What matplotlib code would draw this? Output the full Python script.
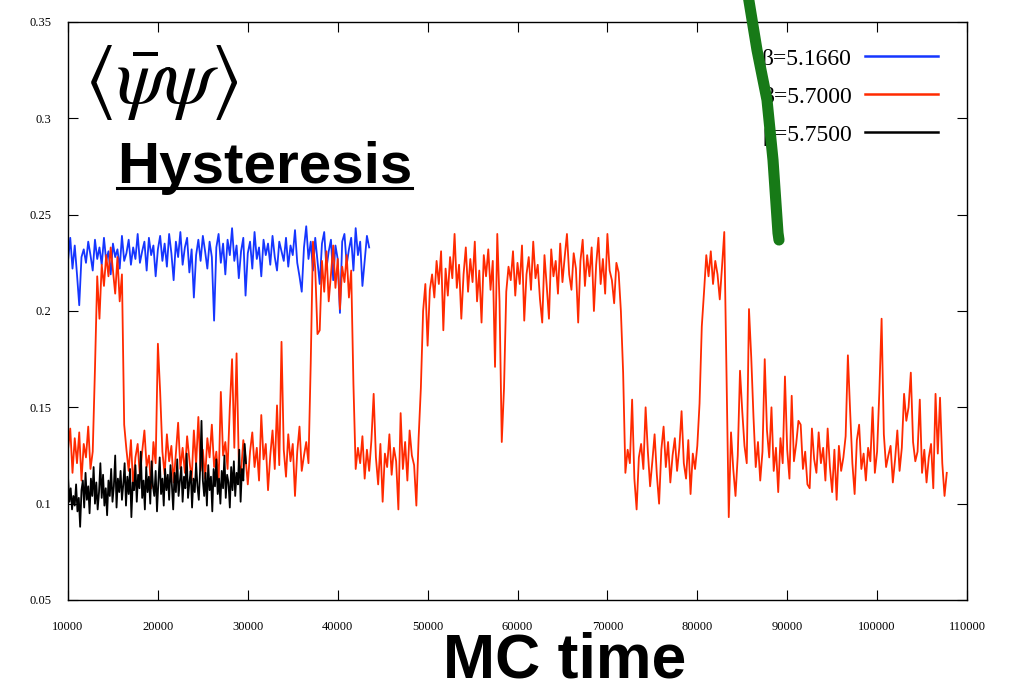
import matplotlib
matplotlib.use("Agg")
import matplotlib.pyplot as plt
from matplotlib.lines import Line2D
from matplotlib.ticker import FuncFormatter, MultipleLocator
import numpy as np

# Chiral condensate histories, one run per beta, sampled on a regular MC-time grid
blue_t0, blue_dt = 10000, 250
blue_vals = [
    0.226, 0.238, 0.222, 0.234, 0.219, 0.203, 0.228, 0.232, 0.225, 0.236,
    0.229, 0.221, 0.237, 0.227, 0.233, 0.224, 0.238, 0.226, 0.231, 0.219,
    0.235, 0.228, 0.232, 0.222, 0.239, 0.226, 0.230, 0.237, 0.224, 0.233,
    0.227, 0.240, 0.225, 0.231, 0.236, 0.221, 0.238, 0.229, 0.234, 0.218,
    0.232, 0.239, 0.226, 0.235, 0.223, 0.240, 0.230, 0.216, 0.236, 0.228,
    0.241, 0.224, 0.233, 0.238, 0.220, 0.232, 0.207, 0.229, 0.237, 0.226,
    0.239, 0.231, 0.222, 0.236, 0.228, 0.195, 0.233, 0.240, 0.225, 0.235,
    0.219, 0.237, 0.229, 0.243, 0.226, 0.234, 0.217, 0.231, 0.238, 0.208,
    0.230, 0.236, 0.222, 0.241, 0.227, 0.233, 0.218, 0.237, 0.229, 0.235,
    0.224, 0.239, 0.228, 0.221, 0.236, 0.231, 0.226, 0.238, 0.223, 0.234,
    0.229, 0.242, 0.225, 0.218, 0.210, 0.233, 0.244, 0.227, 0.236, 0.221,
    0.238, 0.226, 0.214, 0.235, 0.241, 0.222, 0.231, 0.237, 0.216, 0.234,
    0.227, 0.199, 0.236, 0.240, 0.224, 0.232, 0.238, 0.221, 0.243, 0.229,
    0.236, 0.213, 0.226, 0.239, 0.233,
]

red_t0, red_dt = 10000, 250
red_vals = [
    0.128, 0.139, 0.116, 0.134, 0.121, 0.137, 0.112, 0.131, 0.124, 0.140,
    0.118, 0.127, 0.170, 0.218, 0.196, 0.224, 0.213, 0.229, 0.218, 0.233,
    0.221, 0.209, 0.228, 0.205, 0.219, 0.141, 0.128, 0.117, 0.133, 0.109,
    0.124, 0.131, 0.114, 0.127, 0.138, 0.119, 0.125, 0.108, 0.132, 0.121,
    0.183, 0.158, 0.127, 0.115, 0.136, 0.122, 0.130, 0.111, 0.126, 0.142,
    0.118, 0.129, 0.116, 0.135, 0.123, 0.112, 0.138, 0.120, 0.145, 0.117,
    0.128, 0.113, 0.134, 0.124, 0.141, 0.119, 0.127, 0.110, 0.158, 0.125,
    0.132, 0.118, 0.150, 0.175, 0.129, 0.178, 0.121, 0.116, 0.133, 0.124,
    0.110, 0.127, 0.137, 0.119, 0.129, 0.112, 0.146, 0.123, 0.131, 0.107,
    0.125, 0.138, 0.118, 0.151, 0.120, 0.184, 0.128, 0.114, 0.136, 0.122,
    0.131, 0.104, 0.127, 0.140, 0.117, 0.125, 0.132, 0.121, 0.173, 0.236,
    0.222, 0.188, 0.190, 0.226, 0.210, 0.231, 0.205, 0.219, 0.234, 0.212,
    0.227, 0.201, 0.223, 0.215, 0.229, 0.207, 0.221, 0.162, 0.118, 0.129,
    0.121, 0.135, 0.113, 0.128, 0.117, 0.133, 0.157, 0.124, 0.110, 0.131,
    0.101, 0.126, 0.119, 0.136, 0.115, 0.129, 0.122, 0.097, 0.147, 0.118,
    0.132, 0.112, 0.138, 0.125, 0.120, 0.099, 0.134, 0.160, 0.200, 0.214,
    0.182, 0.211, 0.219, 0.207, 0.226, 0.214, 0.231, 0.190, 0.222, 0.208,
    0.228, 0.217, 0.240, 0.212, 0.224, 0.196, 0.219, 0.233, 0.210, 0.227,
    0.215, 0.236, 0.205, 0.221, 0.194, 0.229, 0.218, 0.232, 0.211, 0.226,
    0.171, 0.240, 0.205, 0.132, 0.160, 0.210, 0.223, 0.216, 0.231, 0.208,
    0.225, 0.214, 0.234, 0.195, 0.219, 0.228, 0.211, 0.236, 0.217, 0.224,
    0.206, 0.194, 0.229, 0.213, 0.196, 0.232, 0.218, 0.226, 0.209, 0.235,
    0.215, 0.228, 0.240, 0.219, 0.211, 0.230, 0.222, 0.194, 0.226, 0.237,
    0.213, 0.229, 0.218, 0.233, 0.200, 0.224, 0.238, 0.214, 0.227, 0.209,
    0.240, 0.221, 0.216, 0.204, 0.225, 0.220, 0.200, 0.168, 0.116, 0.128,
    0.121, 0.154, 0.113, 0.097, 0.124, 0.131, 0.118, 0.150, 0.127, 0.109,
    0.122, 0.136, 0.115, 0.100, 0.128, 0.140, 0.119, 0.132, 0.111, 0.125,
    0.134, 0.117, 0.129, 0.148, 0.121, 0.113, 0.133, 0.105, 0.126, 0.118,
    0.130, 0.152, 0.192, 0.210, 0.229, 0.218, 0.231, 0.214, 0.226, 0.219,
    0.206, 0.223, 0.241, 0.166, 0.093, 0.137, 0.118, 0.104, 0.125, 0.169,
    0.148, 0.130, 0.121, 0.201, 0.176, 0.145, 0.119, 0.132, 0.112, 0.127,
    0.175, 0.138, 0.124, 0.150, 0.117, 0.129, 0.106, 0.134, 0.121, 0.166,
    0.128, 0.113, 0.156, 0.122, 0.131, 0.143, 0.141, 0.118, 0.127, 0.110,
    0.108, 0.139, 0.123, 0.116, 0.137, 0.121, 0.129, 0.112, 0.139, 0.119,
    0.106, 0.128, 0.102, 0.130, 0.117, 0.124, 0.135, 0.177, 0.148, 0.121,
    0.105, 0.133, 0.141, 0.118, 0.126, 0.112, 0.129, 0.122, 0.150, 0.116,
    0.127, 0.158, 0.196, 0.136, 0.119, 0.125, 0.130, 0.111, 0.123, 0.138,
    0.117, 0.129, 0.157, 0.143, 0.150, 0.168, 0.132, 0.122, 0.127, 0.154,
    0.116, 0.128, 0.111, 0.124, 0.131, 0.108, 0.157, 0.126, 0.155, 0.121,
    0.104, 0.116,
]

black_t0, black_dt = 10000, 150
black_vals = [
    0.114, 0.101, 0.108, 0.097, 0.104, 0.099, 0.110, 0.096, 0.103, 0.088,
    0.107, 0.112, 0.098, 0.116, 0.102, 0.109, 0.095, 0.113, 0.104, 0.119,
    0.100, 0.111, 0.097, 0.106, 0.121, 0.103, 0.115, 0.099, 0.108, 0.094,
    0.112, 0.104, 0.118, 0.101, 0.109, 0.125, 0.098, 0.113, 0.106, 0.117,
    0.102, 0.110, 0.121, 0.099, 0.114, 0.105, 0.118, 0.093, 0.111, 0.107,
    0.120, 0.101, 0.115, 0.108, 0.127, 0.103, 0.112, 0.097, 0.119, 0.106,
    0.114, 0.100, 0.122, 0.109, 0.104, 0.117, 0.096, 0.111, 0.124, 0.105,
    0.113, 0.099, 0.118, 0.107, 0.115, 0.102, 0.120, 0.110, 0.097, 0.116,
    0.106, 0.123, 0.104, 0.112, 0.119, 0.101, 0.114, 0.108, 0.126, 0.103,
    0.111, 0.117, 0.098, 0.113, 0.106, 0.121, 0.109, 0.102, 0.118, 0.143,
    0.112, 0.104, 0.116, 0.099, 0.120, 0.107, 0.114, 0.096, 0.118, 0.109,
    0.123, 0.105, 0.113, 0.100, 0.117, 0.108, 0.125, 0.103, 0.115, 0.111,
    0.098, 0.119, 0.107, 0.122, 0.104, 0.116, 0.110, 0.128, 0.101, 0.118,
    0.112, 0.131, 0.121,
]

labels = ["β=5.1660", "β=5.7000", "β=5.7500"]
colors = ["#1536ff", "#ff2a00", "#000000"]

plt.rcParams["font.family"] = ["Liberation Serif", "DejaVu Serif"]
plt.rcParams["mathtext.fontset"] = "stix"

fig = plt.figure(figsize=(10.2, 6.91), dpi=100)
ax = fig.add_axes([68 / 1020, 91 / 691, 899 / 1020, 578 / 691])

runs = [(blue_t0, blue_dt, blue_vals),
        (red_t0, red_dt, red_vals),
        (black_t0, black_dt, black_vals)]
for (t0, dt, vals), lab, col in zip(runs, labels, colors):
    t = t0 + dt * np.arange(len(vals))
    ax.plot(t, vals, color=col, lw=1.3, label=lab)

ax.set_xlim(10000, 110000)
ax.set_ylim(0.05, 0.35)
ax.xaxis.set_major_locator(MultipleLocator(10000))
ax.yaxis.set_major_locator(MultipleLocator(0.05))
ax.yaxis.set_major_formatter(FuncFormatter(lambda v, p: "%g" % round(v, 2)))
ax.tick_params(direction="in", length=7, width=0.8, labelsize=9,
               top=True, right=True)
ax.tick_params(axis="x", pad=15)
ax.tick_params(axis="y", pad=12)
for s in ax.spines.values():
    s.set_linewidth(1.0)

leg = ax.legend(loc="upper right", bbox_to_anchor=(938 / 1020, 1 - 48 / 691),
                bbox_transform=fig.transFigure, frameon=False,
                markerfirst=False, fontsize=17, handlelength=3.1,
                handletextpad=0.55, labelspacing=0.7, borderpad=0,
                borderaxespad=0)
for line in leg.get_lines():
    line.set_linewidth(1.8)

# annotations drawn over the plot
fig.text(84 / 1020, 1 - 82 / 691, r"$\langle\bar{\psi}\psi\rangle$",
         fontsize=58, ha="left", va="center")
fig.text(117 / 1020, 1 - 183 / 691, "Hysteresis", family="Liberation Sans",
         fontsize=42, fontweight="bold", ha="left", va="baseline")
fig.add_artist(Line2D([117 / 1020, 412 / 1020], [1 - 188 / 691] * 2,
                      color="black", lw=2.2, transform=fig.transFigure))
fig.text(565 / 1020, 1 / 691, "MC time", family="Liberation Sans",
         fontsize=45, fontweight="bold", ha="center", va="bottom")

# green marker stroke across the legend
gx = np.array([748, 757, 767, 773, 778, 779]) / 1020
gy = 1 - np.array([-5, 50, 100, 160, 233, 240]) / 691
fig.add_artist(Line2D(gx, gy, color="#177a17", lw=8, solid_capstyle="round",
                      solid_joinstyle="round", transform=fig.transFigure,
                      zorder=10))

fig.savefig("out.png", dpi=100)
